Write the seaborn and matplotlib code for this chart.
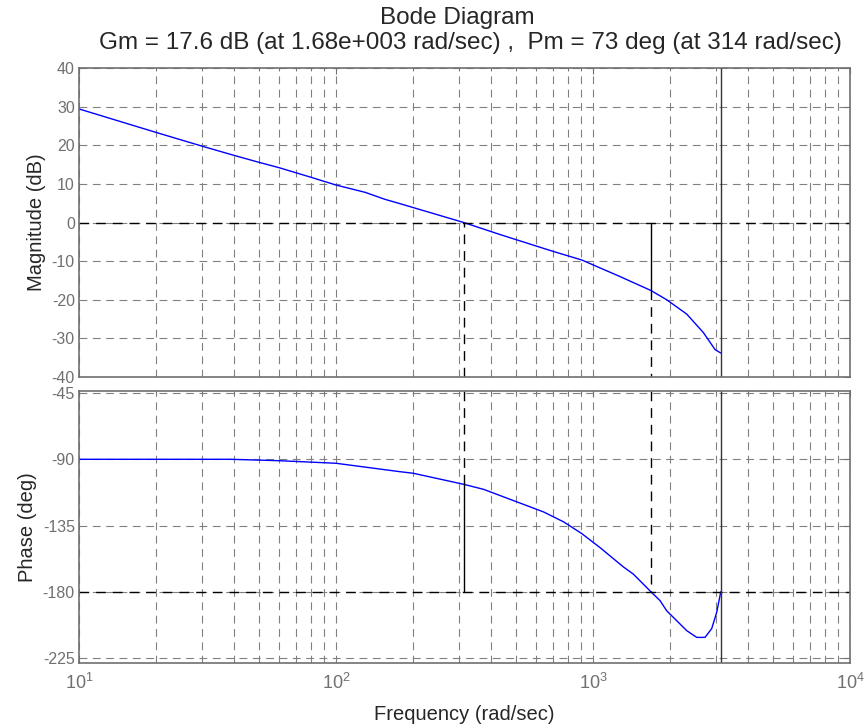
import numpy as np
import pandas as pd
import matplotlib
matplotlib.use("Agg")
import matplotlib.pyplot as plt
import seaborn as sns
from matplotlib.ticker import LogLocator, NullFormatter, FixedLocator

# ---- data ----
mag_freq = [10, 20, 30, 40, 50, 60, 80, 100, 130, 155, 177, 314, 434, 701, 904,
            1274, 1680, 1935, 2315, 2688, 2985, 3142]
mag_db = [29.4, 23.3, 19.8, 17.4, 15.6, 14.2, 11.7, 9.7, 7.8, 6.0, 4.9, 0.0, -3.1,
          -7.5, -9.7, -14.0, -17.6, -20.0, -23.7, -28.5, -32.9, -33.8]

ph_freq = [10, 39, 61, 100, 177, 200, 314, 375, 643, 770, 903, 1065, 1310, 1435,
           1680, 1823, 1935, 2315, 2533, 2728, 2897, 3030, 3142]
ph_deg = [-90, -90, -91, -92.7, -98.4, -99.5, -107, -110.4, -125.8, -132.6, -140.4,
          -150, -163, -168, -180, -186, -192.9, -206.4, -211, -211, -205, -193.9, -180]

gm_db, gm_freq = 17.6, 1680
pm_deg, pm_freq = 73, 314
nyquist = 3142

mag_ticks = [-40, -30, -20, -10, 0, 10, 20, 30, 40]
ph_ticks = [-225, -180, -135, -90, -45]
x_ticks = [10, 100, 1000, 10000]
x_labels = [r"$\mathregular{10^{1}}$", r"$\mathregular{10^{2}}$",
            r"$\mathregular{10^{3}}$", r"$\mathregular{10^{4}}$"]

title1 = "Bode Diagram"
title2 = "Gm = 17.6 dB (at 1.68e+003 rad/sec) ,  Pm = 73 deg (at 314 rad/sec)"

# ---- style ----
sns.set_style("white")
plt.rcParams["font.family"] = ["Liberation Sans", "DejaVu Sans"]
plt.rcParams["mathtext.fontset"] = "custom"
plt.rcParams["mathtext.rm"] = "Liberation Sans"

GRAY = "#808080"
TICKC = "#707070"

fig = plt.figure(figsize=(8.66, 7.28), dpi=100)
W, H = 866, 728
ax1 = fig.add_axes([79 / W, 1 - 377 / H, (850 - 79) / W, (377 - 68) / H])
ax2 = fig.add_axes([79 / W, 1 - 663 / H, (850 - 79) / W, (663 - 391) / H])

mag_df = pd.DataFrame({"f": mag_freq, "v": mag_db})
ph_df = pd.DataFrame({"f": ph_freq, "v": ph_deg})

dash = (0, (7, 5))
for ax in (ax1, ax2):
    ax.set_xscale("log")
    ax.set_xlim(10, 10000)
    ax.xaxis.set_major_locator(FixedLocator(x_ticks))
    ax.xaxis.set_minor_locator(LogLocator(base=10, subs=np.arange(2, 10), numticks=20))
    ax.xaxis.set_minor_formatter(NullFormatter())
    ax.grid(True, which="major", color=GRAY, linestyle=dash, linewidth=0.8)
    ax.grid(True, which="minor", axis="x", color=GRAY, linestyle=dash, linewidth=0.8)
    ax.tick_params(which="both", direction="in", colors=TICKC, labelsize=11.5,
                   top=True, right=True, length=4, pad=3)
    ax.tick_params(which="minor", length=2)
    for s in ax.spines.values():
        s.set_color("#707070")
        s.set_linewidth(1.2)
    ax.set_axisbelow(True)

sns.lineplot(data=mag_df, x="f", y="v", ax=ax1, color="#0000ff", linewidth=1.0,
             sort=False, estimator=None)
sns.lineplot(data=ph_df, x="f", y="v", ax=ax2, color="#0000ff", linewidth=1.0,
             sort=False, estimator=None)

ax1.set_ylim(-40, 40)
ax1.set_yticks(mag_ticks)
ax1.set_yticklabels([str(t) for t in mag_ticks])
ax1.set_xticklabels([])
ax1.set_xlabel("")
ax1.set_ylabel("Magnitude (dB)", fontsize=14.5, labelpad=4)

ax2.set_ylim(-228.4, -43.6)
ax2.set_yticks(ph_ticks)
ax2.set_yticklabels([str(t) for t in ph_ticks])
ax2.set_xticklabels(x_labels)
ax2.tick_params(axis="x", which="major", labelsize=13, pad=7)
ax2.set_xlabel("Frequency (rad/sec)", fontsize=14.5, labelpad=9)
ax2.set_ylabel("Phase (deg)", fontsize=14.5, labelpad=4)

# margin marker lines
kd = dict(color="black", linewidth=1.0, linestyle=dash)
ks = dict(color="black", linewidth=1.0, linestyle="-")
ax1.axhline(0, **kd)
ax1.plot([pm_freq, pm_freq], [-40, 0], **kd)
ax1.plot([gm_freq, gm_freq], [0, -gm_db], **ks)
ax1.plot([gm_freq, gm_freq], [-gm_db, -40], **kd)
ax2.axhline(-180, **kd)
ax2.plot([gm_freq, gm_freq], [-43.6, -180], **kd)
ax2.plot([pm_freq, pm_freq], [-43.6, -180 + pm_deg], **kd)
ax2.plot([pm_freq, pm_freq], [-180 + pm_deg, -180], **ks)
for ax in (ax1, ax2):
    ax.axvline(nyquist, color="#333333", linewidth=1.0)

fig.text(457 / W, 1 - 18 / H, title1, ha="center", va="center", fontsize=17.5)
fig.text(470 / W, 1 - 43 / H, title2, ha="center", va="center", fontsize=17.5)

fig.savefig("out.png", dpi=100)
